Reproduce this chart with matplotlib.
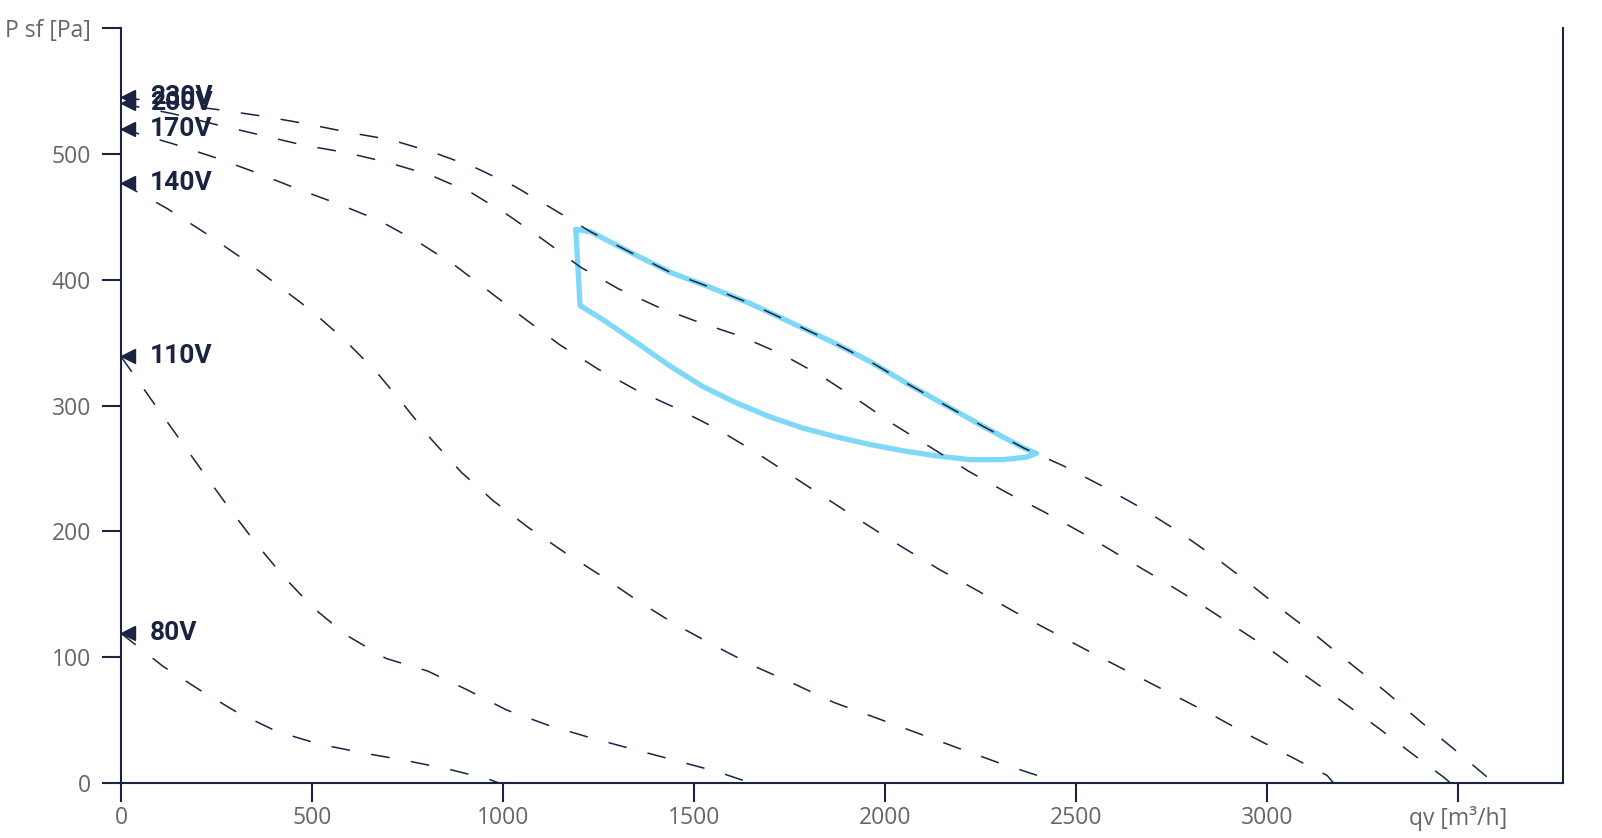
import matplotlib
matplotlib.use("Agg")
import matplotlib.pyplot as plt
from matplotlib.transforms import offset_copy

plt.rcParams["font.family"] = ["Open Sans", "DejaVu Sans"]
plt.rcParams["lines.scale_dashes"] = False

NAVY = "#1a2340"
GREY = "#666666"
BLUE = "#7fd8f7"

# fan curves, qv [m3/h] vs static pressure [Pa]
labels = ["230V", "200V", "170V", "140V", "110V", "80V"]

qv_230 = [0, 257, 370, 483, 597, 709, 819, 928, 1032, 1132, 1230, 1332, 1437, 1542,
          1648, 1754, 1859, 1961, 2061, 2160, 2260, 2365, 2468, 2569, 2669, 2768,
          2862, 2953, 3043, 3134, 3223, 3314, 3402, 3490, 3576, 3594]
ps_230 = [545, 535, 530, 524, 517, 511, 501, 489, 474, 456, 438, 422, 406, 394,
          381, 366, 351, 335, 317, 300, 283, 266, 252, 236, 219, 200,
          180, 159, 137, 116, 94, 72, 49, 27, 5, 0]

qv_200 = [0, 134, 252, 365, 476, 589, 701, 811, 918, 1015, 1109, 1203, 1301, 1408,
          1515, 1623, 1729, 1831, 1927, 2023, 2119, 2218, 2318, 2420, 2521, 2620,
          2720, 2817, 2913, 3009, 3103, 3196, 3291, 3382, 3466, 3481]
ps_200 = [540, 532, 523, 515, 507, 501, 493, 483, 469, 451, 431, 410, 393, 378,
          366, 355, 341, 324, 305, 285, 267, 248, 231, 215, 198, 180,
          162, 144, 125, 106, 85, 65, 44, 23, 4, 0]

qv_170 = [0, 136, 247, 355, 463, 571, 676, 778, 876, 967, 1057, 1150, 1249, 1351,
          1453, 1557, 1656, 1752, 1848, 1944, 2043, 2141, 2242, 2340, 2439, 2545,
          2647, 2749, 2852, 2954, 3056, 3158, 3175]
ps_170 = [520, 508, 497, 485, 472, 460, 447, 430, 411, 390, 369, 348, 329, 312,
          298, 282, 264, 245, 226, 207, 188, 170, 153, 136, 120, 103,
          87, 71, 55, 38, 22, 6, 0]

qv_140 = [0, 124, 221, 317, 409, 500, 586, 668, 742, 813, 891, 976, 1067, 1163,
          1261, 1357, 1452, 1555, 1657, 1761, 1867, 1975, 2083, 2190, 2299, 2410, 2440]
ps_140 = [477, 456, 437, 417, 396, 375, 352, 327, 300, 273, 247, 224, 203, 183,
          164, 144, 126, 109, 93, 79, 64, 52, 40, 28, 16, 5, 0]

qv_110 = [0, 81, 147, 215, 282, 352, 426, 504, 593, 694, 803, 907, 1010, 1118,
          1229, 1339, 1451, 1561, 1650]
ps_110 = [339, 304, 276, 247, 219, 191, 164, 139, 117, 99, 89, 74, 58, 46,
          36, 27, 18, 9, 0]

qv_80 = [0, 109, 206, 305, 408, 518, 632, 744, 858, 963, 990]
ps_80 = [119, 93, 74, 56, 41, 31, 24, 18, 11, 3, 0]

curves = [(qv_230, ps_230), (qv_200, ps_200), (qv_170, ps_170),
          (qv_140, ps_140), (qv_110, ps_110), (qv_80, ps_80)]

# working area outline (top edge along 230V, back along the lower edge)
area_qv = [1191, 1230, 1332, 1437, 1542, 1648, 1754, 1859, 1961, 2061, 2160, 2260,
           2365, 2397, 2371, 2310, 2222, 2135, 2048, 1961, 1874, 1786, 1699, 1612,
           1524, 1437, 1350, 1263, 1202, 1191]
area_ps = [440, 438, 422, 406, 394, 381, 366, 351, 335, 317, 300, 283,
           266, 262, 259, 257, 257, 260, 264, 269, 275, 282, 291, 302,
           315, 331.5, 350, 368, 379.5, 440]

x_ticks = [0, 500, 1000, 1500, 2000, 2500, 3000, 3500]
x_ticklabels = ["0", "500", "1000", "1500", "2000", "2500", "3000", "qv [m³/h]"]
y_ticks = [0, 100, 200, 300, 400, 500, 600]
y_ticklabels = ["0", "100", "200", "300", "400", "500", "P sf [Pa]"]

fig = plt.figure(figsize=(16.02, 8.38), dpi=100)
ax = fig.add_axes([0.0755, 0.0656, 0.9, 0.901])

ax.plot(area_qv, area_ps, color=BLUE, lw=3.8, solid_joinstyle="round",
        solid_capstyle="round", zorder=2)

marker_tr = offset_copy(ax.transData, fig=fig, x=7, y=0, units="dots")
for (qv, ps), lab in zip(curves, labels):
    ax.plot(qv, ps, color=NAVY, lw=1.1, dashes=(13.5, 15.5), zorder=3)
    ax.plot([qv[0]], [ps[0]], marker="<", ms=10, color=NAVY, transform=marker_tr,
            clip_on=False, zorder=4)
    ax.annotate(lab, (qv[0], ps[0]), xytext=(21, 0), textcoords="offset points",
                ha="left", va="center", fontsize=19, fontweight="bold", color=NAVY,
                family=["Roboto", "DejaVu Sans"], zorder=5)

ax.set_xlim(0, 3775)
ax.set_ylim(0, 600)
ax.set_xticks(x_ticks)
ax.set_xticklabels(x_ticklabels)
ax.set_yticks(y_ticks)
ax.set_yticklabels(y_ticklabels)

for side in ["left", "bottom", "right"]:
    ax.spines[side].set_color(NAVY)
    ax.spines[side].set_linewidth(1.5)
ax.spines["top"].set_visible(False)

ax.tick_params(axis="both", colors=NAVY, labelcolor=GREY, length=13.5, width=1.5,
               labelsize=16.5)
ax.tick_params(axis="x", pad=3)
ax.tick_params(axis="y", pad=8)

fig.savefig("out.png", dpi=100)
